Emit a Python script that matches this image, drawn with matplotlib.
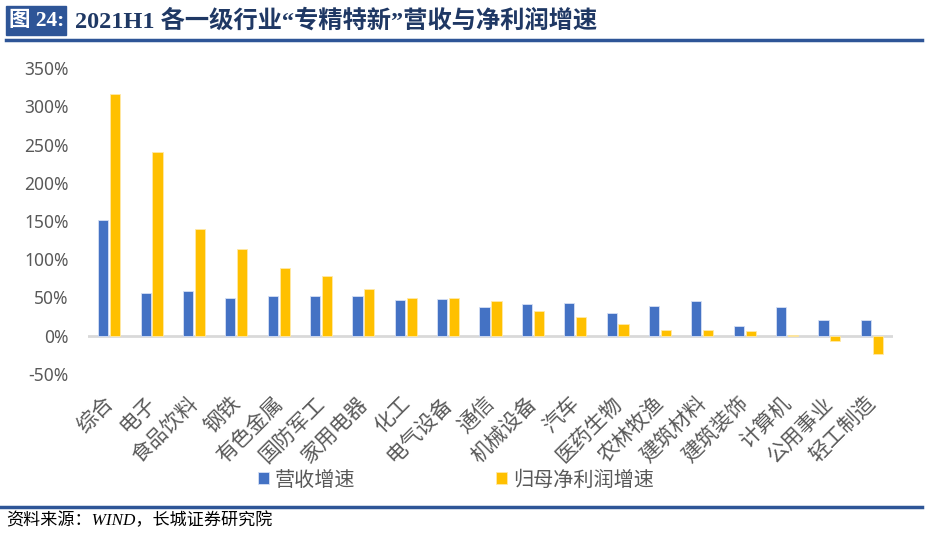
import numpy as np
import matplotlib.pyplot as plt
import matplotlib.transforms as mtransforms
from matplotlib.patches import Rectangle

plt.rcParams['font.family'] = ['Noto Sans CJK SC', 'DejaVu Sans']

# data (growth, %)
industries = ['综合', '电子', '食品饮料', '钢铁', '有色金属', '国防军工', '家用电器',
              '化工', '电气设备', '通信', '机械设备', '汽车', '医药生物', '农林牧渔',
              '建筑材料', '建筑装饰', '计算机', '公用事业', '轻工制造']
revenue_growth = [151, 56, 58, 50, 52, 52, 52, 47, 48, 37, 41, 43, 30, 39, 45, 13, 37, 21, 20]
profit_growth = [316, 240, 140, 114, 88, 78, 61, 50, 49, 45, 32, 24, 16, 8, 8, 6.5, 0.5, -6.5, -24]
yticks = [-50, 0, 50, 100, 150, 200, 250, 300, 350]

blue = '#4472C4'
yellow = '#FFC000'
grey_text = '#595959'

fig = plt.figure(figsize=(9.29, 5.39), dpi=100)
W, H = 929, 539

# header: blue label box + title + rule
fig.patches.append(Rectangle((6 / W, 1 - 35 / H), 60 / W, 29 / H,
                             transform=fig.transFigure, color='#2E5597', zorder=1))
fig.text(9 / W, 1 - 21 / H, '图 24:', color='white', fontsize=15.5, fontweight='bold',
         va='center', ha='left', family=['Liberation Serif', 'Noto Sans CJK SC'])
fig.text(75 / W, 1 - 21 / H, '2021H1 各一级行业“专精特新”营收与净利润增速', color='#1F3864',
         fontsize=17.5, fontweight='bold', va='center', ha='left',
         family=['Liberation Serif', 'Noto Sans CJK SC'])
fig.add_artist(plt.Line2D([6 / W, 922 / W], [1 - 40 / H, 1 - 40 / H],
                          transform=fig.transFigure, color='#2E5597', linewidth=2.5))
fig.add_artist(plt.Line2D([0, 922 / W], [1 - 507 / H, 1 - 507 / H],
                          transform=fig.transFigure, color='#2E5597', linewidth=2.5))
fig.text(6 / W, 1 - 521 / H, '资料来源：WIND，长城证券研究院', fontsize=12.3, style='italic',
         va='center', ha='left', color='black',
         family=['Liberation Serif', 'Noto Sans CJK SC'])

ax = fig.add_axes([88 / W, 1 - 374 / H, (893 - 88) / W, (374 - 68) / H])

x = np.arange(len(industries))
bw = 0.24
ax.bar(x - 0.14, revenue_growth, bw, color=blue, edgecolor='#D6E0F5', linewidth=0.6,
       label='营收增速', zorder=2)
ax.bar(x + 0.14, profit_growth, bw, color=yellow, edgecolor='#FFE9A8', linewidth=0.6,
       label='归母净利润增速', zorder=2)

ax.set_xlim(-0.5, len(industries) - 0.5)
ax.set_ylim(-50, 350)
ax.set_yticks(yticks)
ax.set_yticklabels([f'{v}%' for v in yticks], fontsize=12.5, color=grey_text,
                   family=['Noto Sans', 'DejaVu Sans'])
ax.axhline(0, color='#D9D9D9', linewidth=2, zorder=1)

ax.set_xticks(x)
ax.set_xticklabels(industries, rotation=45, ha='right', rotation_mode='anchor',
                   fontsize=15, fontweight='light', color=grey_text)
ax.tick_params(axis='both', length=0)
ax.tick_params(axis='y', pad=14)
ax.tick_params(axis='x', pad=13)
shift = mtransforms.ScaledTranslation(-7 / 100, 0, fig.dpi_scale_trans)
for lbl in ax.get_xticklabels():
    lbl.set_transform(lbl.get_transform() + shift)
for s in ax.spines.values():
    s.set_visible(False)

leg = fig.legend(loc='center', bbox_to_anchor=(456 / W, 1 - 480 / H), ncol=2, frameon=False,
                 handlelength=0.55, handleheight=0.55, handletextpad=0.3,
                 columnspacing=7.0, prop={'weight': 'light', 'size': 14.5})
for t in leg.get_texts():
    t.set_color(grey_text)

fig.savefig('out.png', dpi=100)
